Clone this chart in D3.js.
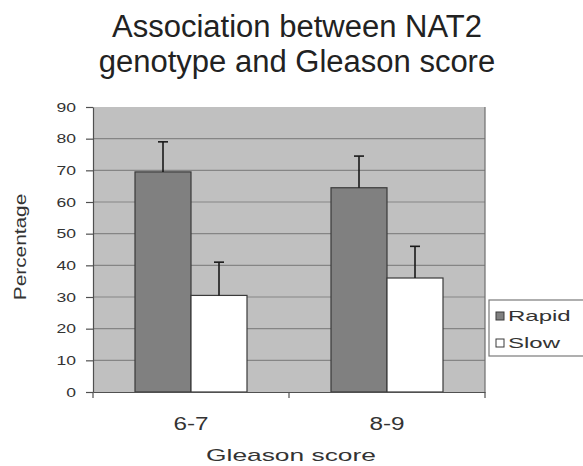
<!DOCTYPE html>
<html>
<head>
<meta charset="utf-8">
<script src="https://cdn.jsdelivr.net/npm/d3@7"></script>
<style>
	html, body { margin: 0; padding: 0; background: #fff; }
	svg { display: block; font-family: 'Liberation Sans', Arial, sans-serif; }
</style>
</head>
<body>
<div id="chart"></div>
<script>
const categories = ['6-7', '8-9'];
const seriesNames = ['Rapid', 'Slow'];
const rapidValues = [69.5, 64.5];
const rapidErrors = [9.5, 10];
const slowValues = [30.5, 36];
const slowErrors = [10.5, 10];
const yTicks = [0, 10, 20, 30, 40, 50, 60, 70, 80, 90];
const titleLines = ['Association between NAT2', 'genotype and Gleason score'];

const width = 583;
const height = 466;
const plot = { left: 93, right: 485, top: 107, bottom: 392 };
const colors = { Rapid: '#808080', Slow: '#ffffff' };

const rows = [];
categories.forEach((c, i) => {
	rows.push({ cat: c, series: 'Rapid', value: rapidValues[i], err: rapidErrors[i] });
	rows.push({ cat: c, series: 'Slow', value: slowValues[i], err: slowErrors[i] });
});

/**
 * Widen text horizontally, the source picture is stretched.
 * @param {d3.selection} sel
 * @param {number} k
 */
function stretch(sel, k) {
	sel.each(function() {
		const w = this.getComputedTextLength();
		this.setAttribute('textLength', w * k);
		this.setAttribute('lengthAdjust', 'spacingAndGlyphs');
	});
}

const svg = d3.select('#chart').append('svg')
	.attr('width', width)
	.attr('height', height);

const x = d3.scaleBand()
	.domain(categories)
	.range([plot.left, plot.right]);

const xSeries = d3.scaleBand()
	.domain(seriesNames)
	.range([0, x.bandwidth()])
	.paddingInner(0)
	.paddingOuter(0.75);

const y = d3.scaleLinear()
	.domain([0, 90])
	.range([plot.bottom, plot.top]);

// plot background
svg.append('rect')
	.attr('x', plot.left)
	.attr('y', plot.top)
	.attr('width', plot.right - plot.left)
	.attr('height', plot.bottom - plot.top)
	.attr('fill', '#c0c0c0');

// gridlines
svg.append('g')
	.selectAll('line')
	.data(yTicks.filter(t => t > 0 && t < 90))
	.join('line')
	.attr('x1', plot.left)
	.attr('x2', plot.right)
	.attr('y1', d => y(d))
	.attr('y2', d => y(d))
	.attr('stroke', '#858585')
	.attr('stroke-width', 1.2);

svg.append('line')
	.attr('x1', plot.right)
	.attr('x2', plot.right)
	.attr('y1', plot.top)
	.attr('y2', plot.bottom)
	.attr('stroke', '#6e6e6e')
	.attr('stroke-width', 1.2);

// bars
const bars = svg.append('g');
bars.selectAll('rect')
	.data(rows)
	.join('rect')
	.attr('x', d => x(d.cat) + xSeries(d.series))
	.attr('y', d => y(d.value))
	.attr('width', xSeries.bandwidth())
	.attr('height', d => y(0) - y(d.value))
	.attr('fill', d => colors[d.series])
	.attr('stroke', '#3a3a3a')
	.attr('stroke-width', 1.2);

// error bars, upper half only
const errs = svg.append('g')
	.attr('stroke', '#1a1a1a')
	.attr('stroke-width', 1.6);
errs.selectAll('line.stem')
	.data(rows)
	.join('line')
	.attr('class', 'stem')
	.attr('x1', d => x(d.cat) + xSeries(d.series) + xSeries.bandwidth() / 2)
	.attr('x2', d => x(d.cat) + xSeries(d.series) + xSeries.bandwidth() / 2)
	.attr('y1', d => y(d.value))
	.attr('y2', d => y(d.value + d.err));
errs.selectAll('line.cap')
	.data(rows)
	.join('line')
	.attr('class', 'cap')
	.attr('x1', d => x(d.cat) + xSeries(d.series) + xSeries.bandwidth() / 2 - 5)
	.attr('x2', d => x(d.cat) + xSeries(d.series) + xSeries.bandwidth() / 2 + 5)
	.attr('y1', d => y(d.value + d.err))
	.attr('y2', d => y(d.value + d.err));

// y axis
const yAxis = svg.append('g')
	.attr('transform', `translate(${plot.left},0)`)
	.call(d3.axisLeft(y).tickValues(yTicks).tickSize(7).tickPadding(10).tickSizeOuter(0));
yAxis.selectAll('path, line').attr('stroke', '#505050').attr('stroke-width', 1.2);
yAxis.selectAll('text')
	.attr('fill', '#333')
	.style('font-size', '13px')
	.call(stretch, 1.35);

// x axis
const xAxis = svg.append('g')
	.attr('transform', `translate(0,${plot.bottom})`)
	.call(d3.axisBottom(x).tickSize(0).tickPadding(0).tickSizeOuter(0));
xAxis.select('path').attr('stroke', '#505050').attr('stroke-width', 1.2);
xAxis.selectAll('text')
	.attr('y', 38)
	.attr('dy', 0)
	.attr('fill', '#333')
	.style('font-size', '18px')
	.call(stretch, 1.35);

// tick marks between categories
svg.append('g')
	.selectAll('line')
	.data(x.range().concat([x(categories[1])]))
	.join('line')
	.attr('x1', d => d)
	.attr('x2', d => d)
	.attr('y1', plot.bottom)
	.attr('y2', plot.bottom + 6)
	.attr('stroke', '#505050')
	.attr('stroke-width', 1.2);

// axis titles
svg.append('text')
	.attr('x', 291)
	.attr('y', 461)
	.attr('text-anchor', 'middle')
	.attr('fill', '#333')
	.style('font-size', '17px')
	.text('Gleason score')
	.call(stretch, 1.55);

svg.append('text')
	.attr('transform', 'translate(26,247) rotate(-90)')
	.attr('text-anchor', 'middle')
	.attr('fill', '#333')
	.style('font-size', '16px')
	.text('Percentage')
	.call(stretch, 1.3);

// title
svg.append('g')
	.selectAll('text')
	.data(titleLines)
	.join('text')
	.attr('x', 297)
	.attr('y', (d, i) => 37 + i * 35)
	.attr('text-anchor', 'middle')
	.attr('fill', '#222')
	.style('font-size', '31px')
	.text(d => d);

// legend
const legend = svg.append('g')
	.attr('transform', 'translate(489,300)');
legend.append('rect')
	.attr('width', 110)
	.attr('height', 56)
	.attr('fill', '#fff')
	.attr('stroke', '#7a7a7a')
	.attr('stroke-width', 1.2);
const item = legend.selectAll('g.item')
	.data(seriesNames)
	.join('g')
	.attr('class', 'item')
	.attr('transform', (d, i) => `translate(0,${i * 27})`);
item.append('rect')
	.attr('x', 7)
	.attr('y', 12)
	.attr('width', 8)
	.attr('height', 8)
	.attr('fill', d => colors[d])
	.attr('stroke', '#3a3a3a');
item.append('text')
	.attr('x', 19)
	.attr('y', 21)
	.attr('fill', '#333')
	.style('font-size', '15px')
	.text(d => d)
	.call(stretch, 1.6);
</script>
</body>
</html>
